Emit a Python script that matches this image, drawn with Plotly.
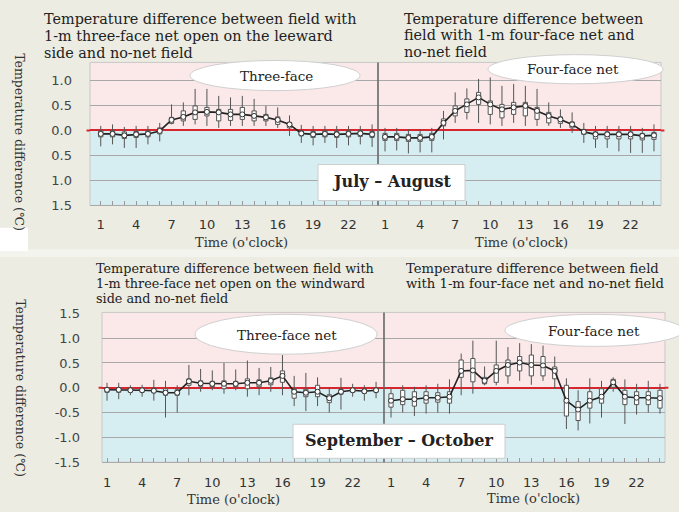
import plotly.graph_objects as go
from plotly.subplots import make_subplots

hours = list(range(1, 25))
x_tick_vals = [1, 4, 7, 10, 13, 16, 19, 22]
x_tick_text = ["1", "4", "7", "10", "13", "16", "19", "22"]
y_tick_vals = [-1.5, -1.0, -0.5, 0.0, 0.5, 1.0, 1.5]
y_tick_text_top = ["1.5", "1.0", "0.5", "0.0", "0.5", "1.0", ""]
y_tick_text_bottom = ["-1.5", "-1.0", "-0.5", "0.0", "0.5", "1.0", "1.5"]

# July - August, three-face net (leeward open)
ja3_med = [-0.07, -0.07, -0.10, -0.08, -0.07, -0.01, 0.21, 0.27, 0.36, 0.37, 0.36, 0.32, 0.32, 0.29, 0.26, 0.21, 0.12, -0.06, -0.08, -0.07, -0.08, -0.07, -0.06, -0.08]
ja3_q3 = [-0.01, -0.01, -0.03, -0.02, -0.01, 0.05, 0.26, 0.39, 0.49, 0.46, 0.42, 0.42, 0.46, 0.39, 0.32, 0.27, 0.16, -0.01, -0.02, -0.01, -0.02, -0.01, 0.00, -0.02]
ja3_q1 = [-0.13, -0.13, -0.16, -0.14, -0.13, -0.07, 0.14, 0.19, 0.22, 0.29, 0.19, 0.20, 0.22, 0.19, 0.19, 0.12, 0.05, -0.11, -0.14, -0.13, -0.14, -0.13, -0.12, -0.14]
ja3_hi = [0.09, 0.12, 0.07, 0.09, 0.09, 0.15, 0.52, 0.56, 0.83, 0.83, 0.69, 0.66, 0.69, 0.63, 0.49, 0.46, 0.30, 0.11, 0.09, 0.09, 0.09, 0.09, 0.09, 0.12]
ja3_lo = [-0.32, -0.28, -0.35, -0.35, -0.28, -0.22, 0.12, 0.09, 0.12, 0.09, 0.05, 0.09, 0.09, 0.09, 0.09, 0.05, -0.11, -0.25, -0.30, -0.25, -0.35, -0.30, -0.28, -0.33]

# July - August, four-face net
ja4_med = [-0.13, -0.13, -0.15, -0.15, -0.13, 0.15, 0.39, 0.52, 0.66, 0.52, 0.42, 0.46, 0.49, 0.39, 0.29, 0.22, 0.12, -0.03, -0.08, -0.08, -0.08, -0.08, -0.11, -0.10]
ja4_q3 = [-0.06, -0.06, -0.08, -0.08, -0.06, 0.23, 0.49, 0.63, 0.76, 0.59, 0.52, 0.56, 0.56, 0.46, 0.36, 0.27, 0.17, 0.02, -0.03, -0.03, -0.03, -0.03, -0.06, -0.04]
ja4_q1 = [-0.20, -0.20, -0.22, -0.22, -0.20, 0.09, 0.29, 0.36, 0.52, 0.32, 0.25, 0.32, 0.29, 0.22, 0.15, 0.14, 0.05, -0.08, -0.17, -0.17, -0.17, -0.17, -0.19, -0.18]
ja4_hi = [0.05, 0.05, 0.02, 0.02, 0.05, 0.39, 0.76, 0.84, 1.03, 1.06, 0.89, 0.93, 0.89, 0.83, 0.56, 0.42, 0.36, 0.15, 0.09, 0.09, 0.09, 0.09, 0.05, 0.12]
ja4_lo = [-0.42, -0.40, -0.46, -0.44, -0.44, -0.18, 0.15, 0.22, 0.15, 0.12, 0.09, 0.15, 0.09, 0.09, 0.09, 0.05, -0.05, -0.25, -0.35, -0.35, -0.42, -0.45, -0.45, -0.42]

# September - October, three-face net (windward open)
so3_med = [-0.04, -0.04, -0.05, -0.05, -0.06, -0.10, -0.10, 0.13, 0.09, 0.08, 0.08, 0.08, 0.10, 0.10, 0.14, 0.24, -0.08, -0.10, -0.08, -0.21, -0.08, -0.05, -0.07, -0.05]
so3_q3 = [0.00, 0.00, -0.01, -0.01, -0.01, -0.02, -0.04, 0.18, 0.14, 0.13, 0.14, 0.13, 0.18, 0.16, 0.20, 0.34, -0.02, -0.03, 0.05, -0.14, -0.03, -0.01, -0.03, -0.01]
so3_q1 = [-0.09, -0.09, -0.09, -0.09, -0.10, -0.15, -0.15, 0.05, 0.03, 0.02, -0.02, 0.02, -0.02, 0.02, 0.06, 0.11, -0.21, -0.18, -0.18, -0.30, -0.13, -0.09, -0.11, -0.09]
so3_hi = [0.10, 0.10, 0.05, 0.06, 0.16, 0.14, 0.05, 0.46, 0.38, 0.35, 0.50, 0.37, 0.55, 0.40, 0.42, 0.66, 0.24, 0.30, 0.21, 0.00, 0.20, 0.08, 0.05, 0.12]
so3_lo = [-0.26, -0.23, -0.15, -0.18, -0.26, -0.60, -0.50, -0.15, -0.08, -0.05, -0.12, -0.05, -0.18, -0.15, -0.08, -0.15, -0.37, -0.47, -0.37, -0.50, -0.44, -0.18, -0.26, -0.21]

# September - October, four-face net
so4_med = [-0.26, -0.23, -0.23, -0.20, -0.20, -0.18, 0.34, 0.35, 0.14, 0.34, 0.46, 0.51, 0.46, 0.45, 0.34, -0.26, -0.44, -0.26, -0.18, 0.11, -0.18, -0.20, -0.20, -0.21]
so4_q3 = [-0.12, -0.05, -0.08, -0.08, -0.10, -0.08, 0.56, 0.59, 0.21, 0.46, 0.56, 0.63, 0.66, 0.63, 0.42, 0.05, -0.28, -0.08, -0.02, 0.17, -0.05, -0.08, -0.08, -0.05]
so4_q1 = [-0.39, -0.34, -0.37, -0.31, -0.29, -0.31, 0.21, 0.12, 0.08, 0.11, 0.24, 0.34, 0.24, 0.24, 0.18, -0.57, -0.66, -0.41, -0.31, 0.01, -0.34, -0.34, -0.34, -0.41]
so4_hi = [-0.02, 0.05, 0.02, 0.05, 0.08, 0.17, 0.69, 0.95, 0.43, 0.95, 0.82, 0.90, 0.88, 0.85, 0.63, 0.19, -0.05, 0.19, 0.14, 0.21, 0.17, 0.08, 0.14, 0.08]
so4_lo = [-0.60, -0.50, -0.57, -0.52, -0.50, -0.52, -0.15, -0.12, 0.05, 0.05, 0.08, 0.14, 0.06, 0.14, -0.02, -0.83, -0.86, -0.72, -0.60, -0.08, -0.73, -0.54, -0.50, -0.52]

W, H = 679, 512
def fx(px):
    return px / W
def fy(py):
    return 1 - py / H

SERIF = "DejaVu Serif"
SANS = "DejaVu Sans"
PINK = "#fbe8e8"
CYAN = "#d6eef1"
BEIGE = "#ecece2"
RED = "#d8262e"

fig = make_subplots(rows=2, cols=2)

panels = [
    (1, 1, ja3_med, ja3_q1, ja3_q3, ja3_lo, ja3_hi),
    (1, 2, ja4_med, ja4_q1, ja4_q3, ja4_lo, ja4_hi),
    (2, 1, so3_med, so3_q1, so3_q3, so3_lo, so3_hi),
    (2, 2, so4_med, so4_q1, so4_q3, so4_lo, so4_hi),
]
for r, c, med, q1, q3, lo, hi in panels:
    fig.add_trace(go.Box(x=hours, q1=q1, median=med, q3=q3, lowerfence=lo, upperfence=hi,
                         width=0.36, whiskerwidth=0, fillcolor="white",
                         line=dict(color="#555555", width=1), boxpoints=False,
                         showlegend=False, hoverinfo="skip"), row=r, col=c)
    fig.add_trace(go.Scatter(x=hours, y=med, mode="lines+markers",
                             line=dict(color="#222222", width=1.6),
                             marker=dict(symbol="circle", size=5, color="white",
                                         line=dict(color="#333333", width=1)),
                             showlegend=False, hoverinfo="skip"), row=r, col=c)

# axis geometry (pixels)
geo = {
    1: dict(x=(90, 378), y=(58, 205), xr=(0.09, 24.5), yr=(-1.5, 1.36)),
    2: dict(x=(378, 661), y=(58, 205), xr=(0.4, 24.6), yr=(-1.5, 1.36)),
    3: dict(x=(102, 384), y=(315, 469), xr=(0.57, 24.68), yr=(-1.5, 1.52)),
    4: dict(x=(384, 665), y=(315, 469), xr=(0.4, 24.43), yr=(-1.5, 1.52)),
}
shapes = []
# background decorations
shapes.append(dict(type="rect", xref="paper", yref="paper", x0=0, x1=1, y0=fy(258), y1=fy(250),
                   fillcolor="#f4f4ee", line=dict(width=0), layer="below"))
shapes.append(dict(type="rect", xref="paper", yref="paper", x0=0, x1=fx(28), y0=fy(252), y1=fy(228),
                   fillcolor="white", line=dict(width=0), layer="below"))

for i, g in geo.items():
    sx = "" if i == 1 else str(i)
    fig.layout["xaxis" + sx].update(
        domain=[fx(g["x"][0]), fx(g["x"][1])], range=list(g["xr"]),
        tickvals=x_tick_vals, ticktext=x_tick_text, ticks="inside", ticklen=4,
        tickcolor="#999999", showgrid=False, zeroline=False,
        showline=True, linecolor="#aaaaaa", linewidth=1,
        minor=dict(dtick=1, tick0=0, ticks="inside", ticklen=4, tickcolor="#999999"),
        tickfont=dict(family=SANS, size=13, color="#333333"),
        ticklabelstandoff=(7 if i <= 2 else 8),
    )
    fig.layout["yaxis" + sx].update(
        domain=[fy(g["y"][1]), fy(g["y"][0])], range=list(g["yr"]),
        tickvals=y_tick_vals,
        ticktext=(y_tick_text_top if i <= 2 else y_tick_text_bottom),
        showticklabels=(i in (1, 3)), ticks="",
        showgrid=True, gridcolor="#a8a8a8", gridwidth=1,
        zeroline=True, zerolinecolor=RED, zerolinewidth=2, showline=False,
        tickfont=dict(family=SANS, size=13, color="#444444"),
        ticklabelstandoff=(17 if i == 1 else 21),
    )
    xr = "x" + sx
    yr = "y" + sx
    shapes.append(dict(type="rect", xref=xr + " domain", yref=yr, x0=0, x1=1, y0=0, y1=g["yr"][1],
                       fillcolor=PINK, line=dict(width=0), layer="below"))
    shapes.append(dict(type="rect", xref=xr + " domain", yref=yr, x0=0, x1=1, y0=g["yr"][0], y1=0,
                       fillcolor=CYAN, line=dict(width=0), layer="below"))
    shapes.append(dict(type="rect", xref=xr + " domain", yref=yr + " domain", x0=0, x1=1, y0=0, y1=1,
                       fillcolor="rgba(0,0,0,0)", line=dict(color="#c8c8c8", width=1), layer="below"))
    # small red extensions of the zero line outside the plot area
    if i in (1, 3):
        shapes.append(dict(type="line", xref=xr + " domain", yref=yr, x0=-0.012, x1=0, y0=0, y1=0,
                           line=dict(color=RED, width=2), layer="above"))
    else:
        shapes.append(dict(type="line", xref=xr + " domain", yref=yr, x0=1, x1=1.012, y0=0, y1=0,
                           line=dict(color=RED, width=2), layer="above"))

# vertical dividers between panels
shapes.append(dict(type="line", xref="paper", yref="paper", x0=fx(378), x1=fx(378), y0=fy(205), y1=fy(58),
                   line=dict(color="#666666", width=1.5), layer="above"))
shapes.append(dict(type="line", xref="paper", yref="paper", x0=fx(384), x1=fx(384), y0=fy(469), y1=fy(315),
                   line=dict(color="#666666", width=1.5), layer="above"))

annotations = []
def note(text, x, y, size, xanchor="center", color="#222222", angle=0):
    annotations.append(dict(text=text, x=fx(x), y=fy(y), xref="paper", yref="paper",
                            xanchor=xanchor, yanchor="middle", textangle=angle, showarrow=False,
                            font=dict(family=SERIF, size=size, color=color)))

# ellipses
ellipses = [
    ((190, 56, 360, 87), "Three-face", (276, 72)),
    ((488, 50, 663, 80), "Four-face net", (573, 65)),
    ((195, 317, 377, 358), "Three-face net", (287, 338)),
    ((505, 317, 684, 350), "Four-face net", (594, 334)),
]
for (x0, y0, x1, y1), label, (tx, ty) in ellipses:
    shapes.append(dict(type="circle", xref="paper", yref="paper", x0=fx(x0), x1=fx(x1), y0=fy(y1), y1=fy(y0),
                       fillcolor="white", line=dict(color="#d0d0d0", width=1), layer="above"))
    note(label, tx, ty, 13.5)

# season boxes
seasons = [
    ((318, 163, 465, 200), "July – August", (392, 180)),
    ((293, 430, 505, 465), "September – October", (399, 447)),
]
for (x0, y0, x1, y1), label, (tx, ty) in seasons:
    shapes.append(dict(type="rect", xref="paper", yref="paper", x0=fx(x0), x1=fx(x1), y0=fy(y1), y1=fy(y0),
                       fillcolor="white", line=dict(color="#cccccc", width=1), layer="above"))
    note("<b>" + label + "</b>", tx, ty, 16)

# panel titles, one line at a time
title_lines = [
    ("Temperature difference between field with", 42, 13, 14.4),
    ("1-m three-face net open on the leeward", 42, 30.5, 14.4),
    ("side and no-net field", 42, 48, 14.4),
    ("Temperature difference between", 402, 13, 14.4),
    ("field with 1-m four-face net and", 402, 30, 14.4),
    ("no-net field", 402, 47, 14.4),
    ("Temperature difference between field with", 94, 269.5, 12.8),
    ("1-m three-face net open on the windward", 94, 285, 12.8),
    ("side and no-net field", 94, 300.5, 12.8),
    ("Temperature difference between field", 404, 269.5, 13.2),
    ("with 1-m four-face net and no-net field", 404, 285.5, 13.2),
]
for text, tx, ty, size in title_lines:
    note(text, tx, ty, size, xanchor="left")

# x axis titles
for tx, ty in [(241, 243), (521, 243), (233, 507), (533, 506)]:
    note("Time (o'clock)", tx, ty, 13, color="#333333")

# y axis titles (rotated, reading downward)
for tx, ty in [(20, 140), (21, 393)]:
    note("Temperature difference (℃)", tx, ty, 12.5, color="#333333", angle=90)

fig.update_layout(
    width=W, height=H, margin=dict(l=0, r=0, t=0, b=0),
    paper_bgcolor=BEIGE, plot_bgcolor="rgba(0,0,0,0)",
    shapes=shapes, annotations=annotations, showlegend=False,
)
fig.write_html("out.html", config={"displayModeBar": False},
               post_script="document.body.style.margin='0';")
